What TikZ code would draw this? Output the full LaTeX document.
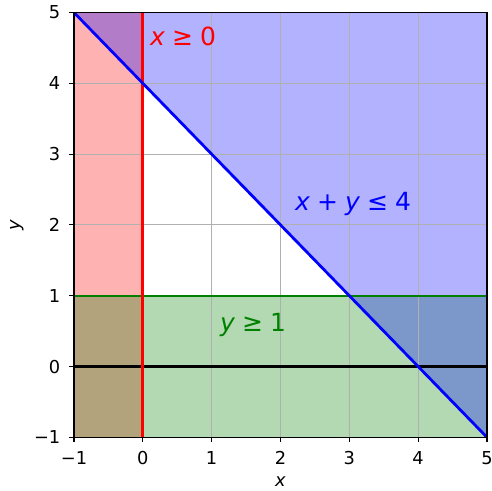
\documentclass[tikz,border=0pt]{standalone}
\usepackage{fontspec}
\setmainfont{DejaVu Sans}
\definecolor{mplred}{RGB}{255,0,0}
\definecolor{mplblue}{RGB}{0,0,255}
\definecolor{mplgreen}{RGB}{0,128,0}
\definecolor{gridgray}{RGB}{176,176,176}
\newcommand{\gap}{\hspace{0.28em}}
\tikzset{
  region/.style={fill opacity=0.3},
  gridline/.style={draw=gridgray, line width=1.1pt},
  tickmark/.style={draw=black, line width=1.1pt},
  ticklabel/.style={inner sep=0pt, font=\fontsize{17.8}{20}\selectfont},
  biglabel/.style={inner sep=0pt, anchor=base west, font=\fontsize{25}{30}\selectfont},
}
\begin{document}
\begin{tikzpicture}[x=1pt,y=1pt]
\useasboundingbox (0,0) rectangle (492,490);
\begin{scope}[shift={(142.8pt,123.5pt)}, x=68.83pt, y=70.8pt]
  % shaded regions
  \fill[mplred, region] (-1,-1) rectangle (0,5);
  \fill[mplgreen, region] (-1,-1) rectangle (5,1);
  \fill[mplblue, region] (-1,5) -- (5,-1) -- (5,5) -- cycle;
  % grid
  \foreach \i in {0,...,4} {
    \draw[gridline] (\i,-1) -- (\i,5);
  }
  \foreach \j in {0,...,4} {
    \draw[gridline] (-1,\j) -- (5,\j);
  }
  % boundary lines
  \begin{scope}
    \clip (-1,-1) rectangle (5,5);
    \draw[black, line width=2.08pt] (-1,0) -- (5,0);
    \draw[mplgreen, line width=2.08pt] (-1,1) -- (5,1);
    \draw[mplred, line width=2.78pt] (0,-1) -- (0,5);
    \draw[mplblue, line width=2.78pt] (-1,5) -- (5,-1);
  \end{scope}
  % spines
  \draw[line width=1.1pt] (-1,-1) rectangle (5,5);
  % ticks and tick labels
  \foreach \i/\t in {-1/−1,0/0,1/1,2/2,3/3,4/4,5/5} {
    \draw[tickmark] (\i,-1) -- ++(0,-4.9pt);
    \node[ticklabel, anchor=base] (tx\i) at ([yshift=-27.3pt]\i,-1) {\t};
    \draw[tickmark] (-1,\i) -- ++(-4.9pt,0);
    \node[ticklabel, anchor=base east] (ty\i) at ([xshift=-13.5pt, yshift=-6.5pt]-1,\i) {\t};
  }
  % axis labels
  \node[ticklabel, anchor=base] (xlab) at ([yshift=-49.2pt]2,-1) {\textit{x}};
  \node[ticklabel, anchor=base, rotate=90] (ylab) at ([xshift=-54.2pt]-1,2) {\textit{y}};
  % constraint labels
  \node[biglabel, text=mplred] (cx) at (0.105,4.53) {\textit{x}\gap≥\gap0};
  \node[biglabel, text=mplblue] (cxy) at (2.21,2.2) {\textit{x}\gap+\gap\textit{y}\gap≤\gap4};
  \node[biglabel, text=mplgreen] (cy) at (1.12,0.49) {\textit{y}\gap≥\gap1};
\end{scope}
\end{tikzpicture}
\end{document}
